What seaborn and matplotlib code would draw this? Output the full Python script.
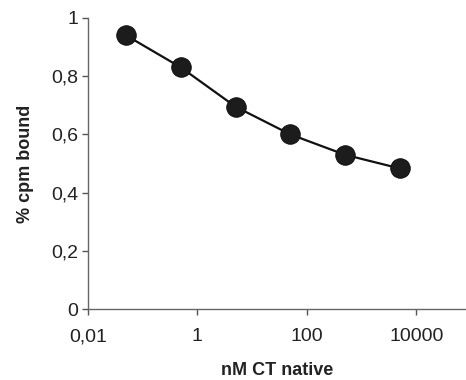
import numpy as np
import pandas as pd
import matplotlib
matplotlib.use("Agg")
import matplotlib.pyplot as plt
import seaborn as sns
from matplotlib.ticker import FixedLocator, FuncFormatter, NullLocator

# Datos
concentracion = [0.05, 0.5, 5, 50, 500, 5000]   # nM CT native
fraccion_unida = [0.94, 0.83, 0.695, 0.60, 0.53, 0.483]  # % cpm bound
ticks_x = [0.01, 1, 100, 10000]
ticks_y = [0, 0.2, 0.4, 0.6, 0.8, 1]

df = pd.DataFrame({"nM": concentracion, "bound": fraccion_unida})

sns.set_style("white")
plt.rcParams["font.family"] = ["Liberation Sans", "DejaVu Sans"]

fig = plt.figure(figsize=(4.66, 3.8), dpi=100)
ax = fig.add_axes([88 / 466, 71 / 380, 378 / 466, 291 / 380])

sns.lineplot(data=df, x="nM", y="bound", ax=ax, color="#111111", linewidth=1.6,
             marker="o", markersize=14, markerfacecolor="#1c1c1c",
             markeredgecolor="#111111")

ax.set_xscale("log")
ax.set_xlim(0.01, 10 ** (-2 + 378 / 54.7))
ax.set_ylim(0, 1)

ax.xaxis.set_major_locator(FixedLocator(ticks_x))
ax.xaxis.set_minor_locator(NullLocator())
ax.xaxis.set_major_formatter(FuncFormatter(lambda v, p: f"{v:g}".replace(".", ",")))
ax.yaxis.set_major_locator(FixedLocator(ticks_y))
ax.yaxis.set_major_formatter(FuncFormatter(lambda v, p: f"{v:g}".replace(".", ",")))

ax.tick_params(axis="both", direction="out", length=4, width=1, color="#555555",
               labelsize=14, labelcolor="#222222")
ax.tick_params(axis="x", bottom=True, pad=10)
ax.tick_params(axis="y", left=True, pad=3)

for lado in ["top", "right"]:
    ax.spines[lado].set_visible(False)
for lado in ["left", "bottom"]:
    ax.spines[lado].set_color("#666666")
    ax.spines[lado].set_linewidth(1)

ax.set_xlabel("nM CT native", fontsize=13, fontweight="bold", color="#222222", labelpad=12)
ax.set_ylabel("% cpm bound", fontsize=13, fontweight="bold", color="#222222", labelpad=12)

fig.savefig("out.png", dpi=100)
